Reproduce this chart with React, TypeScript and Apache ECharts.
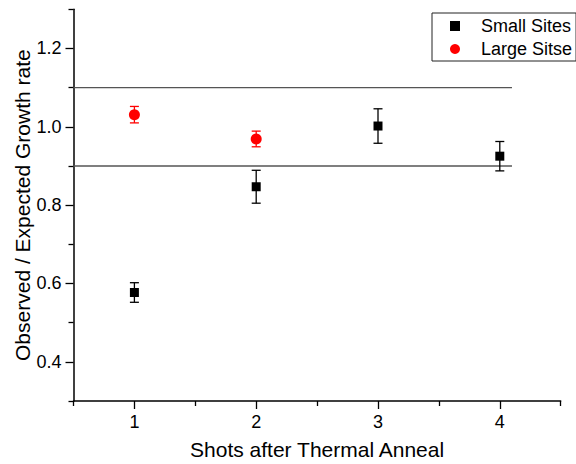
import React, { useEffect, useRef } from "react";
import * as echarts from "echarts";

// ---- data ----
const smallX = [1, 2, 3, 4];
const smallY = [0.577, 0.847, 1.002, 0.925];
const smallErr = [0.025, 0.042, 0.044, 0.0375];

const largeX = [1, 2];
const largeY = [1.031, 0.969];
const largeErr = [0.021, 0.02];

const refLines = [1.1, 0.9];
const refLineStart = 0.5;
const refLineEnd = 4.1;

const xMajorTicks = [1, 2, 3, 4];
const xMinorTicks = [0.5, 1.5, 2.5, 3.5, 4.5];
const yMajorTicks = [0.4, 0.6, 0.8, 1.0, 1.2];
const yMinorTicks = [0.3, 0.5, 0.7, 0.9, 1.1, 1.3];

const seriesNames = ["Small Sites", "Large Sitse"];
const xTitle = "Shots after Thermal Anneal";
const yTitle = "Observed / Expected Growth rate";

const FONT = "'Liberation Sans', Arial, Helvetica, sans-serif";

function errorBarSeries(xs: number[], ys: number[], errs: number[], color: string) {
  return {
    type: "custom",
    silent: true,
    z: 1,
    xAxisIndex: 0,
    yAxisIndex: 0,
    data: xs.map((x, i) => [x, ys[i], ys[i] - errs[i], ys[i] + errs[i]]),
    encode: { x: 0, y: [2, 3] },
    renderItem: (params: any, api: any) => {
      const x = api.value(0);
      const lo = api.coord([x, api.value(2)]);
      const hi = api.coord([x, api.value(3)]);
      const hw = 4.5;
      const style = { stroke: color, lineWidth: 1.3 };
      return {
        type: "group",
        children: [
          { type: "line", shape: { x1: lo[0], y1: lo[1], x2: hi[0], y2: hi[1] }, style },
          { type: "line", shape: { x1: hi[0] - hw, y1: hi[1], x2: hi[0] + hw, y2: hi[1] }, style },
          { type: "line", shape: { x1: lo[0] - hw, y1: lo[1], x2: lo[0] + hw, y2: lo[1] }, style },
        ],
      };
    },
  };
}

export default function App() {
  const ref = useRef<HTMLDivElement>(null);

  useEffect(() => {
    if (!ref.current) return;
    const chart = echarts.init(ref.current, undefined, { renderer: "svg" });

    const axisCommon = {
      type: "value",
      splitLine: { show: false },
    };

    const option: any = {
      animation: false,
      backgroundColor: "#fff",
      textStyle: { fontFamily: FONT },
      grid: { left: 73.5, right: 15.3, top: 9.3, bottom: 63, containLabel: false, outerBoundsMode: "none" },
      legend: {
        left: 432,
        top: 13,
        orient: "vertical",
        padding: [3, 4, 2, 18],
        itemGap: 3,
        itemWidth: 10,
        itemHeight: 10,
        borderColor: "#222",
        borderWidth: 1,
        textStyle: { fontFamily: FONT, fontSize: 18, color: "#000", lineHeight: 20, padding: [0, 0, 0, 16] },
        data: [
          { name: seriesNames[0], icon: "rect" },
          { name: seriesNames[1], icon: "circle" },
        ],
      },
      xAxis: [
        {
          ...axisCommon,
          min: 0.5,
          max: 4.5,
          position: "bottom",
          name: xTitle,
          nameLocation: "middle",
          nameGap: 38,
          nameMoveOverlap: false,
          nameTextStyle: { fontFamily: FONT, fontSize: 21, color: "#000" },
          axisLine: { show: true, onZero: false, lineStyle: { color: "#000", width: 1.5 } },
          axisTick: { show: true, customValues: xMajorTicks, length: 8, lineStyle: { color: "#000", width: 1.3 } },
          axisLabel: {
            customValues: xMajorTicks,
            margin: 12,
            fontFamily: FONT,
            fontSize: 18,
            color: "#000",
            formatter: (v: number) => String(v),
          },
        },
        {
          ...axisCommon,
          min: 0.5,
          max: 4.5,
          position: "bottom",
          axisLine: { show: false, onZero: false },
          axisTick: { show: true, customValues: xMinorTicks, length: 5, lineStyle: { color: "#000", width: 1.3 } },
          axisLabel: { show: false },
        },
      ],
      yAxis: [
        {
          ...axisCommon,
          min: 0.3,
          max: 1.3,
          position: "left",
          name: yTitle,
          nameLocation: "middle",
          nameGap: 41,
          nameMoveOverlap: false,
          nameTextStyle: { fontFamily: FONT, fontSize: 21, color: "#000" },
          axisLine: { show: true, onZero: false, lineStyle: { color: "#000", width: 1.5 } },
          axisTick: { show: true, customValues: yMajorTicks, length: 8, lineStyle: { color: "#000", width: 1.3 } },
          axisLabel: {
            customValues: yMajorTicks,
            margin: 12,
            fontFamily: FONT,
            fontSize: 18,
            color: "#000",
            formatter: (v: number) => v.toFixed(1),
          },
        },
        {
          ...axisCommon,
          min: 0.3,
          max: 1.3,
          position: "left",
          axisLine: { show: false, onZero: false },
          axisTick: { show: true, customValues: yMinorTicks, length: 5, lineStyle: { color: "#000", width: 1.3 } },
          axisLabel: { show: false },
        },
      ],
      series: [
        ...refLines.map((v) => ({
          type: "line",
          silent: true,
          xAxisIndex: 0,
          yAxisIndex: 0,
          symbol: "none",
          z: 0,
          lineStyle: { color: "#555", width: 1.4 },
          data: [
            [refLineStart, v],
            [refLineEnd, v],
          ],
        })),
        errorBarSeries(smallX, smallY, smallErr, "#000"),
        errorBarSeries(largeX, largeY, largeErr, "#ff0000"),
        {
          name: seriesNames[0],
          type: "scatter",
          xAxisIndex: 0,
          yAxisIndex: 0,
          symbol: "rect",
          symbolSize: 9,
          z: 3,
          itemStyle: { color: "#000", opacity: 1 },
          data: smallX.map((x, i) => [x, smallY[i]]),
        },
        {
          name: seriesNames[1],
          type: "scatter",
          xAxisIndex: 0,
          yAxisIndex: 0,
          symbol: "circle",
          symbolSize: 11,
          z: 3,
          itemStyle: { color: "#ff0000", opacity: 1 },
          data: largeX.map((x, i) => [x, largeY[i]]),
        },
      ],
    };

    chart.setOption(option);
    return () => chart.dispose();
  }, []);

  return <div ref={ref} style={{ width: 576, height: 464, position: "absolute", left: 0, top: 0 }} />;
}
